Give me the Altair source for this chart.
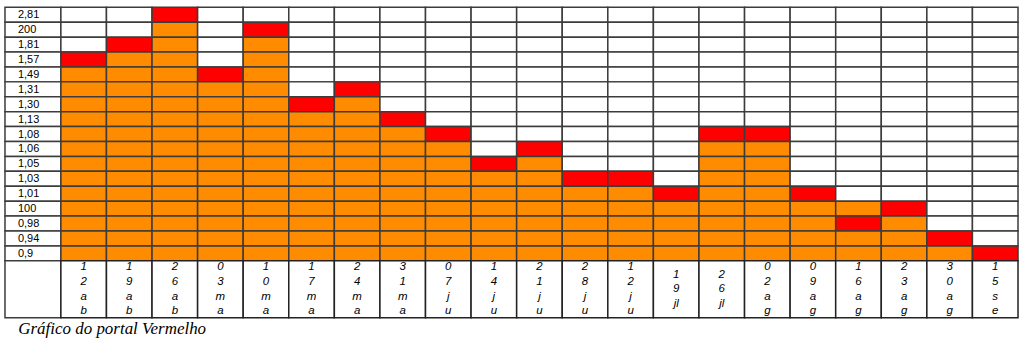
import altair as alt
import pandas as pd

levels = ["2,81", "200", "1,81", "1,57", "1,49", "1,31", "1,30", "1,13", "1,08",
          "1,06", "1,05", "1,03", "1,01", "100", "0,98", "0,94", "0,9"]
date_labels = ["1\n2\na\nb", "1\n9\na\nb", "2\n6\na\nb", "0\n3\nm\na", "1\n0\nm\na",
               "1\n7\nm\na", "2\n4\nm\na", "3\n1\nm\na", "0\n7\nj\nu", "1\n4\nj\nu",
               "2\n1\nj\nu", "2\n8\nj\nu", "1\n2\nj\nu", "1\n9\njl", "2\n6\njl",
               "0\n2\na\ng", "0\n9\na\ng", "1\n6\na\ng", "2\n3\na\ng", "3\n0\na\ng",
               "1\n5\ns\ne"]
red_level = ["1,57", "1,81", "2,81", "1,49", "200", "1,30", "1,31", "1,13", "1,08",
             "1,05", "1,06", "1,03", "1,03", "1,01", "1,08", "1,08", "1,01", "0,98",
             "100", "0,94", "0,9"]
orange_top = ["1,49", "1,57", "200", "1,31", "1,81", "1,13", "1,30", "1,08", "1,06",
              "1,03", "1,05", "1,01", "1,01", "100", "1,06", "1,06", "100", "100",
              "0,98", "0,9", ""]
caption = "Gráfico do portal Vermelho"

cells = []
for i, (r, o) in enumerate(zip(red_level, orange_top)):
    for j, lv in enumerate(levels):
        if lv == r:
            s = "red"
        elif o and j >= levels.index(o):
            s = "orange"
        else:
            s = "empty"
        cells.append({"col": i, "level": lv, "status": s})
cells_df = pd.DataFrame(cells)
labels_df = pd.DataFrame({"level": levels})
dates_df = pd.DataFrame({"col": list(range(len(date_labels))), "label": date_labels})

LINE = "#3c3c3c"
SW = 1.5
ROW_H = 254
DATE_H = 57
LBL_W = 56
GRID_W = 959
LH = 14.7

yscale = alt.Scale(domain=levels, paddingInner=0, paddingOuter=0)
xscale = alt.Scale(domain=list(range(len(date_labels))), paddingInner=0, paddingOuter=0)

grid = alt.Chart(cells_df).mark_rect(stroke=LINE, strokeWidth=SW).encode(
    x=alt.X("col:O", scale=xscale, axis=None),
    y=alt.Y("level:O", scale=yscale, axis=None),
    fill=alt.Fill("status:N", legend=None,
                  scale=alt.Scale(domain=["empty", "orange", "red"],
                                  range=["#ffffff", "#ff8c00", "#ff0000"])),
).properties(width=GRID_W, height=ROW_H)

lbl_base = alt.Chart(labels_df).encode(y=alt.Y("level:O", scale=yscale, axis=None))
lbl_cells = lbl_base.mark_rect(fill="white", stroke=LINE, strokeWidth=SW).encode(
    x=alt.value(0), x2=alt.value(LBL_W))
lbl_text = lbl_base.mark_text(align="left", baseline="middle", font="Liberation Sans",
                              fontSize=11, color="black", dy=0.5).encode(
    x=alt.value(13), text="level:N")
lbl_col = alt.layer(lbl_cells, lbl_text).properties(width=LBL_W, height=ROW_H)

blank = alt.Chart(pd.DataFrame({"a": [0]})).mark_rect(
    fill="white", stroke=LINE, strokeWidth=SW).encode(
    x=alt.value(0), x2=alt.value(LBL_W), y=alt.value(0), y2=alt.value(DATE_H)
).properties(width=LBL_W, height=DATE_H)

date_base = alt.Chart(dates_df).encode(x=alt.X("col:O", scale=xscale, axis=None))
date_cells = date_base.mark_rect(fill="white", stroke="#222", strokeWidth=SW).encode(
    y=alt.value(0), y2=alt.value(DATE_H))
text_style = dict(align="center", baseline="middle", lineBreak="\n", lineHeight=LH,
                  font="Liberation Sans", fontSize=11.5, fontStyle="italic", color="black")
date_text4 = date_base.transform_filter("indexof(datum.label, 'jl') < 0").mark_text(
    dy=-1.5 * LH, **text_style).encode(y=alt.value(DATE_H / 2), text="label:N")
date_text3 = date_base.transform_filter("indexof(datum.label, 'jl') >= 0").mark_text(
    dy=-1.0 * LH, **text_style).encode(y=alt.value(DATE_H / 2), text="label:N")
date_row = alt.layer(date_cells, date_text4, date_text3).properties(width=GRID_W, height=DATE_H)

chart = alt.concat(lbl_col, grid, blank, date_row, columns=2, spacing=0,
                   bounds="flush").properties(
    padding={"left": 4, "top": 6, "right": 5, "bottom": 0},
    title=alt.TitleParams(caption, orient="bottom", anchor="start", dx=14, offset=3,
                          font="Liberation Serif", fontSize=17, fontStyle="italic",
                          fontWeight="normal", color="black"),
).configure_view(stroke=None).configure_concat(spacing=0)

chart.save("out.html", embed_options={"renderer": "svg", "actions": False})
